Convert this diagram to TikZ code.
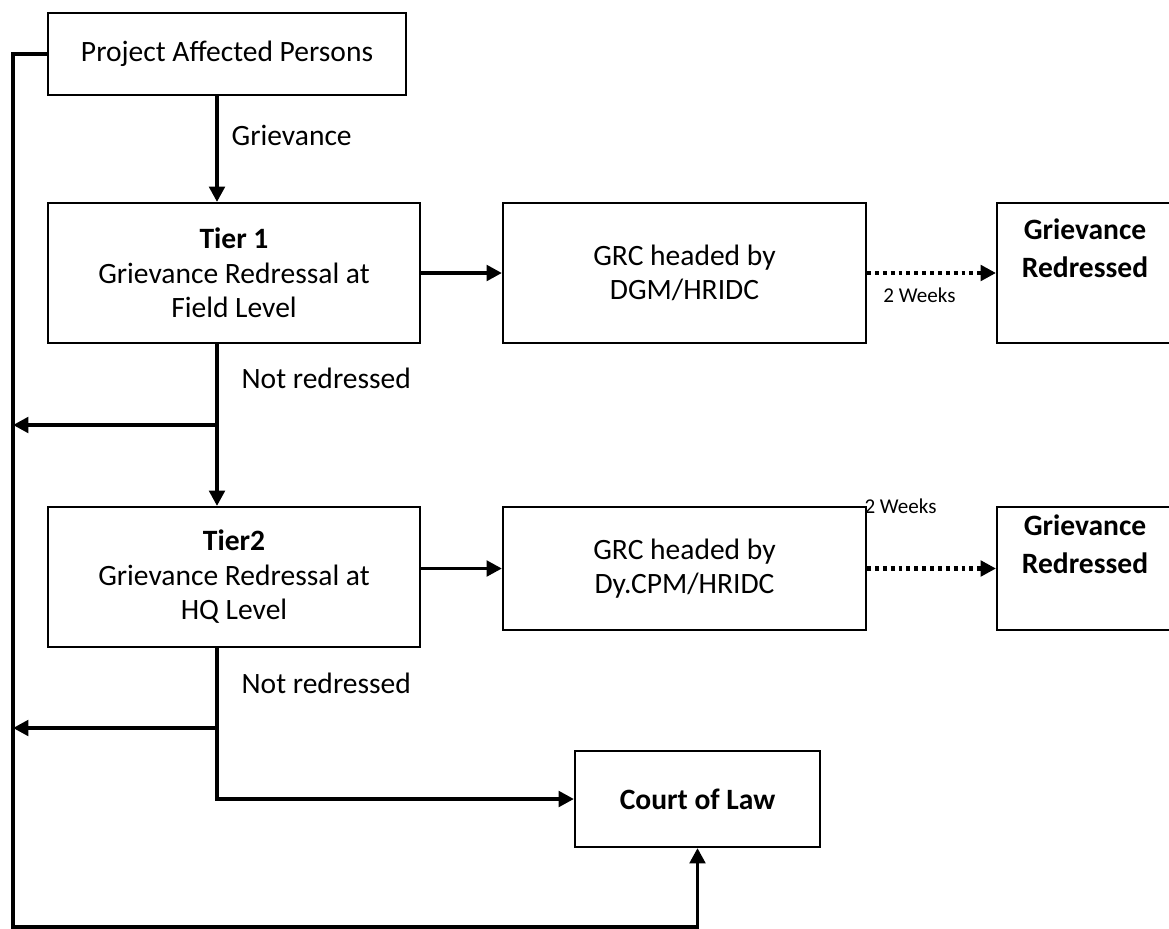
\documentclass[tikz,border=0pt]{standalone}
\usepackage{fontspec}
\setmainfont{Carlito}
\usepackage{tikz}
\usetikzlibrary{arrows.meta, calc}
\tikzset{
    stage box/.style={draw=black, line width=1.4pt, align=center,
      font=\fontsize{21}{24.5}\selectfont},
    result box/.style={stage box, font=\fontsize{21}{27}\bfseries},
    flow line/.style={line width=2.8pt, draw=black,
      -{Triangle[length=11pt,width=11pt]}},
    wait line/.style={flow line, line width=3pt,
      dash pattern=on 2.8pt off 2.8pt},
    flow label/.style={font=\fontsize{21}{24.5}\selectfont},
    weeks label/.style={font=\fontsize{15}{18}\selectfont, inner sep=1pt}
}

\begin{document}
\begin{tikzpicture}[x=0.025cm, y=-0.025cm]
  \useasboundingbox (0,0) rectangle (1169,928);

  % boxes
  \node[stage box, minimum width=8.95cm, minimum height=2.05cm] (pap)
  at (227,54) {Project Affected Persons};
  \node[stage box, minimum width=9.3cm, minimum height=3.5cm] (tierone)
  at (234,273) {\textbf{Tier 1}\\Grievance Redressal at\\Field Level};
  \node[stage box, minimum width=9.075cm, minimum height=3.5cm] (grcone)
  at (684.5,273) {GRC headed by\\DGM/HRIDC};
  \node[result box, minimum width=4.4cm, minimum height=3.5cm] (redone)
  at (1085,273) {Grievance\\Redressed\\\strut};
  \node[stage box, minimum width=9.3cm, minimum height=3.5cm] (tiertwo)
  at (234,577) {\textbf{Tier2}\\Grievance Redressal at\\HQ Level};
  \node[stage box, minimum width=9.075cm, minimum height=3.075cm] (grctwo)
  at (684.5,568.5) {GRC headed by\\Dy.CPM/HRIDC};
  \node[result box, minimum width=4.4cm, minimum height=3.075cm] (redtwo)
  at (1085,568.5) {Grievance\\Redressed\\\strut};
  \node[stage box, minimum width=6.125cm, minimum height=2.4cm] (court)
  at (697.5,799) {\textbf{Court of Law}};

  % spine and rail
  \coordinate (splitone) at (217,425);
  \coordinate (splittwo) at (217,728);
  \coordinate (rail) at (13,927);

  \draw[flow line] (pap.south -| splitone) --
  node[flow label, pos=0.37, right=0.2cm] (grievlabel) {Grievance}
  (tierone.north -| splitone);
  \draw[flow line] (tierone.south -| splitone) --
  node[flow label, pos=0.21, right=0.45cm] (notone) {Not redressed}
  (tiertwo.north -| splitone);
  \draw[flow line] (splitone) -- (splitone -| rail);
  \draw[flow line] (tiertwo.south -| splittwo) --
  node[flow label, pos=0.44, right=0.45cm] (nottwo) {Not redressed}
  (splittwo) |- (court.west);
  \draw[flow line] (splittwo) -- (splittwo -| rail);
  \draw[flow line] (pap.west) -| (rail) -| (court.south);

  % committees
  \draw[flow line] (tierone.east) -- (grcone.west);
  \draw[wait line] (grcone.east) --
  node[weeks label, below=8pt, xshift=-0.3cm] (weeksone) {2 Weeks}
  (redone.west);
  \draw[flow line] (tiertwo.east |- grctwo.west) -- (grctwo.west);
  \draw[wait line] (grctwo.east) -- (redtwo.west);
  \node[weeks label, anchor=west, xshift=-3pt] (weekstwo)
  at (grctwo.north east) {2 Weeks};

\end{tikzpicture}
\end{document}
